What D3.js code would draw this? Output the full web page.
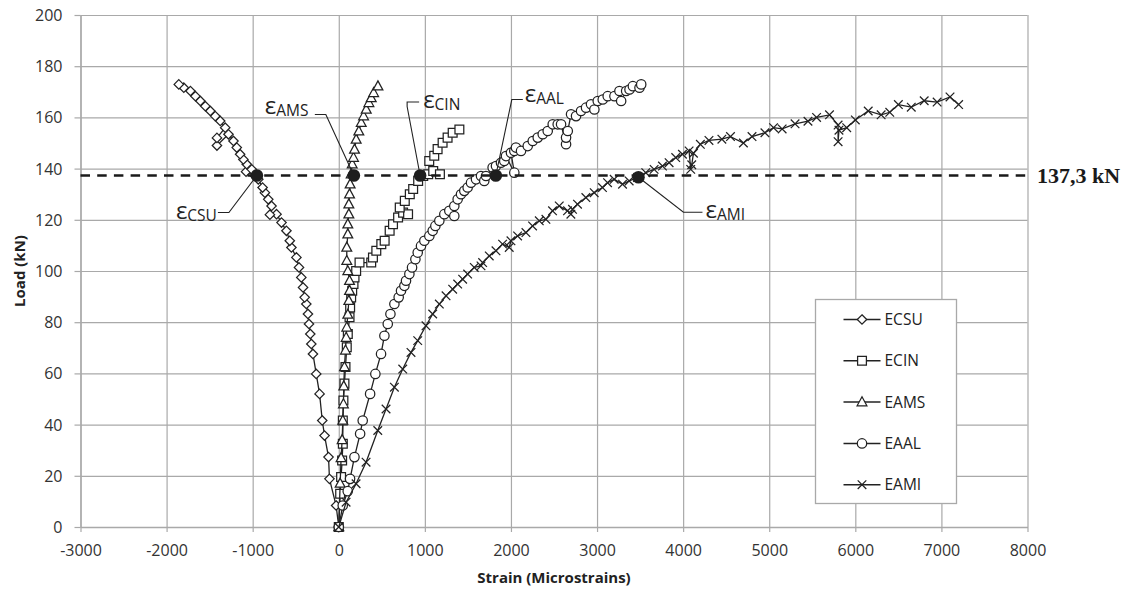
<!DOCTYPE html>
<html><head><meta charset="utf-8">
<script src="https://cdn.jsdelivr.net/npm/d3@7"></script>
<style>
html,body{margin:0;padding:0;background:#fff;}
svg{display:block;}
</style></head><body>
<svg id="chart" width="1126" height="592"></svg>
<script>
// Axis ticks
const xTicks = [-3000,-2000,-1000,0,1000,2000,3000,4000,5000,6000,7000,8000];
const yTicks = [0,20,40,60,80,100,120,140,160,180,200];
const xTitle = "Strain (Microstrains)";
const yTitle = "Load (kN)";

// Series: [strain (microstrains), load (kN)]
const seriesNames = ["ECSU","ECIN","EAMS","EAAL","EAMI"];
const ECSU = [[0,0],[-31,8.4],[-108,18.8],[-119,27.3],[-165,35.7],[-192,41.6],[-223,52],[-262,59.8],[-300,67.6],[-319,71.5],[-331,75.4],[-346,79.3],[-358,83.2],[-377,87.1],[-396,89.7],[-415,93.6],[-435,97.5],[-462,101.4],[-492,105.3],[-550,109.2],[-569,111.8],[-608,115.7],[-665,118.9],[-723,122.2],[-800,122],[-781,125.4],[-819,128],[-858,130.6],[-885,132.6],[-935,135.8],[-973,137.1],[-1077,138.8],[-1011,139.7],[-1069,141.7],[-1108,143.6],[-1146,145.6],[-1185,148.2],[-1223,150.8],[-1281,153.4],[-1415,149],[-1415,152],[-1319,156],[-1377,158.6],[-1435,160.5],[-1492,162.5],[-1550,164.4],[-1608,166.4],[-1665,168.3],[-1723,170.3],[-1800,171.6],[-1858,172.9]];
const ECIN = [[0,0],[16,13],[27,19.5],[39,26],[47,32.5],[47,41.6],[54,49.4],[66,56],[78,62.5],[93,70.2],[105,75.4],[125,81.9],[132,85.8],[144,89.7],[156,92.3],[171,94.9],[183,97.5],[202,100],[241,103.3],[377,103.3],[397,105.3],[436,107.9],[494,110.5],[533,111.8],[591,115.7],[630,118.3],[689,120.9],[747,122.8],[805,122.2],[708,124.8],[767,127.4],[825,130],[864,132],[922,135.2],[981,137.1],[1039,137.8],[1097,139.1],[1175,137.8],[1051,143],[1109,145],[1148,147.6],[1206,150.1],[1264,152.1],[1323,154],[1401,155.3]];
const EAMS = [[0,0],[16,17],[27,27],[39,34],[47,41.6],[54,48],[58,55],[66,62.5],[78,69],[86,74],[93,78],[105,83],[117,88.4],[125,92.3],[125,96.2],[105,100],[93,104],[93,109.2],[105,114.4],[105,118.3],[117,122.2],[117,126.1],[125,130],[132,133.9],[144,137.8],[156,141.7],[171,144.3],[183,147.5],[202,151.4],[233,154.6],[261,157.9],[288,160.5],[319,163.1],[350,165.7],[377,167.6],[405,169.6],[455,172.2]];
const EAAL = [[0,0],[46,8.4],[104,14],[131,18.8],[182,27.3],[248,36.4],[278,41.6],[364,52],[425,59.8],[491,67.6],[530,74.7],[569,79.3],[600,83.2],[646,87.1],[696,89.7],[723,92.3],[762,94.2],[781,96.2],[820,98.8],[851,101.4],[890,104.6],[917,107.2],[955,109.8],[994,111.8],[1052,113.7],[1091,115.7],[1122,117.6],[1168,119.6],[1226,122.2],[1284,123.5],[1342,121.5],[1342,125.4],[1381,128],[1420,130],[1458,131.3],[1497,132.6],[1536,134.5],[1594,135.8],[1652,137.1],[1690,135.2],[1710,137.1],[1787,140.4],[1826,141],[1884,142.3],[1922,143],[1942,144.9],[2039,138.4],[2000,146.2],[2039,146.9],[2058,148.2],[2117,146.9],[2195,148.8],[2253,150.8],[2311,152.1],[2369,153.4],[2427,154.7],[2485,157.3],[2543,157.3],[2582,157.3],[2640,149.5],[2640,152.1],[2660,154.7],[2698,161.2],[2756,160.5],[2814,162.5],[2872,163.8],[2930,165.1],[2969,163.1],[3008,166.4],[3066,167],[3124,168.3],[3202,168.3],[3260,170.3],[3280,166.4],[3338,170.3],[3377,170.9],[3416,172.2],[3493,171.6],[3513,172.9]];
const EAMI = [[0,0],[85,9.7],[201,16.9],[317,25.3],[453,37.7],[549,46.1],[646,54.6],[743,61.7],[839,68.2],[917,72.8],[1013,78.6],[1091,83.2],[1168,87.1],[1246,90.3],[1323,92.9],[1381,94.9],[1439,96.8],[1497,98.8],[1574,101.4],[1652,102],[1671,103.3],[1748,105.9],[1826,107.9],[1903,110.5],[1980,109.2],[2000,111.8],[2077,113.7],[2174,115],[2251,117.6],[2329,119.6],[2406,120.2],[2483,123.5],[2561,125.4],[2657,123.5],[2696,122.2],[2715,124.1],[2773,126.1],[2870,128.7],[2967,130.6],[3063,132.6],[3122,134.5],[3199,135.8],[3296,133.9],[3373,135.2],[3470,136.5],[3566,138.4],[3663,139.7],[3760,141],[3837,142.3],[3914,144.3],[3992,145.6],[4069,146.9],[4088,139.7],[4100,141.5],[4120,146],[4200,149.5],[4300,151],[4450,151.5],[4550,152.5],[4700,150],[4800,152.5],[4950,154],[5050,156],[5150,155.5],[5300,157.5],[5450,158.5],[5550,160],[5700,161],[5800,157],[5800,150.5],[5810,155],[5900,156],[6000,159],[6150,162.5],[6300,161],[6400,162],[6500,165],[6650,164],[6800,166.5],[6950,166],[7100,168],[7200,165]];
const seriesData = [ECSU, ECIN, EAMS, EAAL, EAMI];
const seriesMarkers = ["diamond","square","triangle","circle","cross"];

// Reference load line and strain marks at that load
const refLoad = 137.3;
const refLabel = "137,3 kN";
const markNames = ["CSU","AMS","CIN","AAL","AMI"];
const markStrains = [-951,175,945,1824,3481];
const markLoads = [137.3,137.3,137.3,137.3,136.6];

const svg = d3.select("#chart");
const x = d3.scaleLinear().domain([-3000, 8000]).range([80.5, 1027.5]);
const y = d3.scaleLinear().domain([0, 200]).range([527, 15]);

const gridColor = "#a9a9a9";
const ink = "#222";
const font = "'Open Sans', sans-serif";
const plainNum = d => (d < 0 ? "-" : "") + Math.abs(d);

// Grid
const gx = svg.append("g").attr("transform", `translate(0,${y(0)})`)
  .call(d3.axisBottom(x).tickValues(xTicks).tickSize(-(y(0) - y(200))).tickFormat(""));
const gy = svg.append("g").attr("transform", `translate(${x(-3000)},0)`)
  .call(d3.axisLeft(y).tickValues(yTicks).tickSize(-(x(8000) - x(-3000))).tickFormat(""));
[gx, gy].forEach(g => {
  g.select(".domain").remove();
  g.selectAll("line").attr("stroke", gridColor).attr("stroke-width", 1.2);
});

// Axes with outer ticks
const ax = svg.append("g").attr("transform", `translate(0,${y(0)})`)
  .call(d3.axisBottom(x).tickValues(xTicks).tickFormat(plainNum).tickSize(5).tickSizeOuter(0).tickPadding(13));
const ay = svg.append("g").attr("transform", `translate(${x(-3000)},0)`)
  .call(d3.axisLeft(y).tickValues(yTicks).tickFormat(plainNum).tickSize(6).tickSizeOuter(0).tickPadding(12));
[ax, ay].forEach(g => {
  g.select(".domain").attr("stroke", gridColor).attr("stroke-width", 1.4);
  g.selectAll("line").attr("stroke", gridColor).attr("stroke-width", 1.2);
  g.selectAll("text").attr("fill", "#333").style("font-family", font).style("font-size", "16px");
});
ax.selectAll("text").attr("dy", "0.71em");
ay.selectAll("text").attr("dy", "0.34em");

// Axis titles
svg.append("text").attr("x", (x(-3000) + x(8000)) / 2).attr("y", 583)
  .attr("text-anchor", "middle").attr("fill", ink)
  .style("font-family", font).style("font-size", "15px").style("font-weight", "700")
  .text(xTitle);
svg.append("text").attr("transform", `translate(25,${(y(0) + y(200)) / 2}) rotate(-90)`)
  .attr("text-anchor", "middle").attr("fill", ink)
  .style("font-family", font).style("font-size", "15px").style("font-weight", "700")
  .text(yTitle);

// Marker drawing
function drawMarker(sel, type) {
  if (type === "circle") {
    sel.append("circle").attr("r", 4.7).attr("fill", "#fff").attr("stroke", ink).attr("stroke-width", 1.25);
  } else if (type === "cross") {
    sel.append("path").attr("d", "M-4.3,-4.3L4.3,4.3M-4.3,4.3L4.3,-4.3")
      .attr("fill", "none").attr("stroke", ink).attr("stroke-width", 1.25);
  } else {
    const d = type === "diamond" ? "M0,-4.7L4.7,0L0,4.7L-4.7,0Z"
      : type === "square" ? "M-4.4,-4.4H4.4V4.4H-4.4Z"
      : "M0,-5.3L4.9,3.7H-4.9Z";
    sel.append("path").attr("d", d).attr("fill", "#fff").attr("stroke", ink).attr("stroke-width", 1.25);
  }
}

const line = d3.line().x(d => x(d[0])).y(d => y(d[1]));
const plot = svg.append("g");
seriesData.forEach((data, i) => {
  const g = plot.append("g");
  g.append("path").datum(data).attr("d", line)
    .attr("fill", "none").attr("stroke", ink).attr("stroke-width", 1.3);
  g.selectAll("g.pt").data(data).enter().append("g").attr("class", "pt")
    .attr("transform", d => `translate(${x(d[0])},${y(d[1])})`)
    .each(function () { drawMarker(d3.select(this), seriesMarkers[i]); });
});

// Reference load line
svg.append("line")
  .attr("x1", x(-3000)).attr("x2", x(8000) + 3)
  .attr("y1", y(refLoad)).attr("y2", y(refLoad))
  .attr("stroke", "#1a1a1a").attr("stroke-width", 2.7).attr("stroke-dasharray", "9.5,7.2");
svg.append("text").attr("x", 1037).attr("y", y(refLoad) + 7.5)
  .attr("fill", "#1a1a1a")
  .style("font-family", "'Liberation Serif', 'Times New Roman', serif")
  .style("font-size", "22px").style("font-weight", "700")
  .text(refLabel);

// Strain marks at the reference load, with callouts
// label offsets (px) relative to the mark: text start, baseline, leader path
const callouts = [
  {tx: -81, ty: 43, leader: [[-39, 37], [-28, 37]]},
  {tx: -89, ty: -62, leader: [[-39, -61], [-28, -61]]},
  {tx: 3, ty: -68, leader: [[-1, -73.5], [-13, -73.5], [-13, -69]]},
  {tx: 29, ty: -74, leader: [[27, -76], [16, -76]]},
  {tx: 67, ty: 41, leader: [[64, 35], [45, 35]]}
];
markStrains.forEach((s, i) => {
  const cx = x(s), cy = y(markLoads[i]);
  const c = callouts[i];
  const pts = c.leader.map(p => [cx + p[0], cy + p[1]]).concat([[cx, cy]]);
  svg.append("path").attr("d", d3.line()(pts))
    .attr("fill", "none").attr("stroke", ink).attr("stroke-width", 1.1);
  const t = svg.append("text").attr("x", cx + c.tx).attr("y", cy + c.ty)
    .attr("fill", ink).style("font-family", font);
  t.append("tspan").style("font-size", "24px").text("\u03b5");
  t.append("tspan").attr("dy", 2).style("font-size", "15.5px").text(markNames[i]);
});
markStrains.forEach((s, i) => {
  svg.append("circle").attr("cx", x(s)).attr("cy", y(markLoads[i])).attr("r", 6.3).attr("fill", "#1e1e1e");
});

// Legend
const lg = svg.append("g").attr("transform", "translate(815.5,299.5)");
lg.append("rect").attr("width", 141).attr("height", 204)
  .attr("fill", "#fff").attr("stroke", gridColor).attr("stroke-width", 1.3);
seriesNames.forEach((name, i) => {
  const row = lg.append("g").attr("transform", `translate(0,${20 + i * 41.3})`);
  row.append("line").attr("x1", 28).attr("x2", 65).attr("stroke", ink).attr("stroke-width", 1.5);
  const m = row.append("g").attr("transform", "translate(46.5,0)");
  drawMarker(m, seriesMarkers[i]);
  row.append("text").attr("x", 69).attr("y", 5.5).attr("fill", ink)
    .style("font-family", font).style("font-size", "15.5px").text(name);
});
</script>
</body></html>
